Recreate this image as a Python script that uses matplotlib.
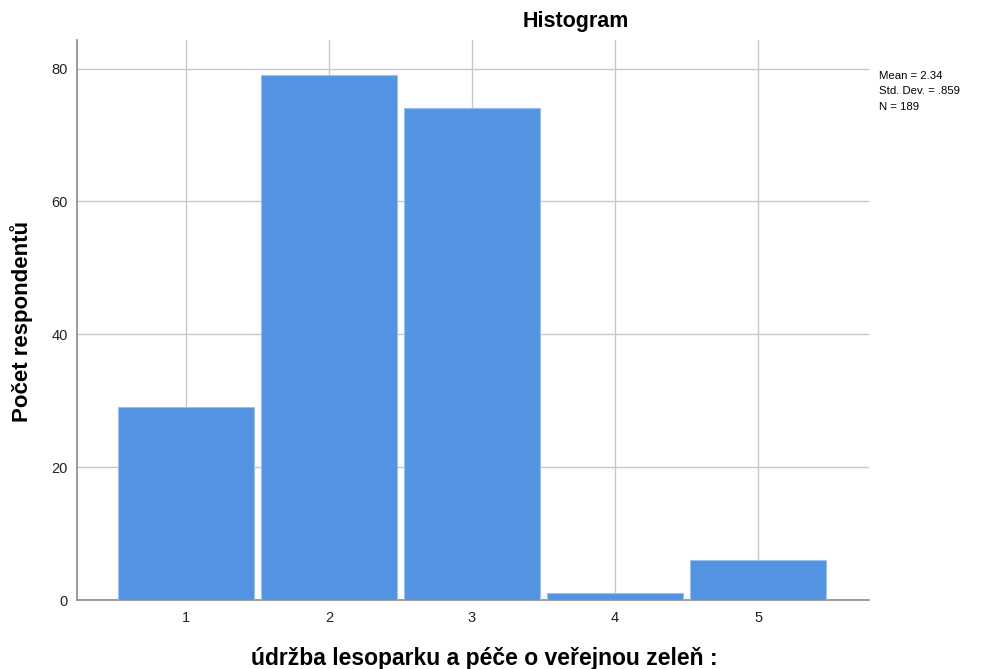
import matplotlib
matplotlib.use("Agg")
import matplotlib.pyplot as plt

categories = [1, 2, 3, 4, 5]
counts = [29, 79, 74, 1, 6]
yticks = [0, 20, 40, 60, 80]
stats_text = "Mean = 2.34\nStd. Dev. = .859\nN = 189"

plt.rcParams['font.family'] = ['Liberation Sans', 'DejaVu Sans']

fig = plt.figure(figsize=(9.88, 6.69), dpi=100)
ax = fig.add_axes([77/988, 69/669, (869-77)/988, (600-40)/669])

ax.bar(categories, counts, width=0.95, color='#5294e2', edgecolor='#9cc0ee', linewidth=0.8, zorder=3)
ax.set_xlim(0.238, 5.776)
ax.set_ylim(0, 84.3)
ax.set_xticks(categories)
ax.set_yticks(yticks)
ax.grid(True, color='#c8c8c8', linewidth=1.0, zorder=0)
ax.set_axisbelow(True)
for s in ['top', 'right']:
    ax.spines[s].set_visible(False)
for s in ['left', 'bottom']:
    ax.spines[s].set_color('#8a8a8a')
    ax.spines[s].set_linewidth(1.2)
ax.tick_params(axis='both', length=0, labelsize=10.5, colors='#222222')
ax.tick_params(axis='x', pad=8)
ax.tick_params(axis='y', pad=6.5)

fig.text(575.5/988, 1 - 22/669, "Histogram", ha='center', va='center', fontsize=15.5, fontweight='semibold')
fig.text(22/988, 1 - 322/669, "Počet respondentů", rotation=90, ha='center', va='center',
         fontsize=16, fontweight='bold')
fig.text(484.5/988, 1 - 659/669, "údržba lesoparku a péče o veřejnou zeleň :", ha='center', va='center',
         fontsize=16.5, fontweight='bold')
fig.text(879/988, 1 - 71/669, stats_text, ha='left', va='top', fontsize=8.2, linespacing=1.68)

fig.savefig("out.png", dpi=100)
